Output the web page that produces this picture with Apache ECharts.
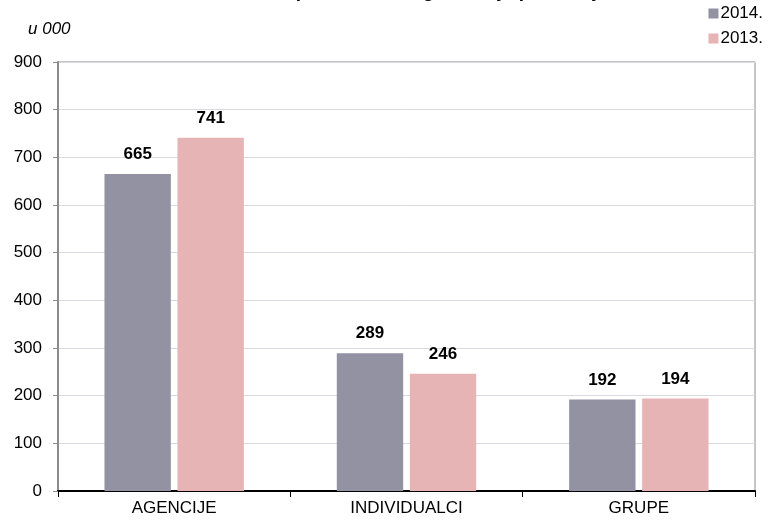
<!DOCTYPE html>
<html>
<head>
<meta charset="utf-8">
<style>
  html, body { margin: 0; padding: 0; background: #ffffff; }
  #chart { width: 768px; height: 523px; }
</style>
<script src="https://cdn.jsdelivr.net/npm/echarts@6/dist/echarts.min.js"></script>
</head>
<body>
<div id="chart"></div>
<script>
// Categories and yearly values (thousands)
const categories = ['AGENCIJE', 'INDIVIDUALCI', 'GRUPE'];
const values2014 = [665, 289, 192];
const values2013 = [741, 246, 194];
const yTicks = { min: 0, max: 900, interval: 100 };
const titleText = 'Dolasci turista prema vrsti organizacije putovanja';

const FONT = '"Liberation Sans", Arial, sans-serif';
const FS = 17;

const chart = echarts.init(document.getElementById('chart'), null, { renderer: 'canvas' });

const barLabel = {
  show: true,
  position: 'top',
  distance: 11,
  color: '#000',
  fontWeight: 'bold',
  fontSize: FS,
  fontFamily: FONT
};

chart.setOption({
  animation: false,
  backgroundColor: '#ffffff',
  title: {
    text: titleText,
    left: 'center',
    top: -23,
    textStyle: { fontSize: 19, fontWeight: 'bold', color: '#000', fontFamily: FONT }
  },
  graphic: [{
    type: 'text',
    left: 28,
    top: 21,
    style: { text: 'u 000', fill: '#000', font: 'italic ' + FS + 'px ' + FONT }
  }],
  legend: {
    orient: 'vertical',
    right: 0,
    top: 0,
    itemWidth: 10,
    itemHeight: 10,
    itemGap: 8,
    icon: 'rect',
    textStyle: { fontSize: FS, color: '#000', fontFamily: FONT, padding: [0, 0, 0, -3] },
    data: ['2014.', '2013.']
  },
  grid: {
    left: 58,
    right: 13,
    top: 62,
    bottom: 32,
    show: true,
    borderColor: '#8c8c8c',
    borderWidth: 1
  },
  xAxis: {
    type: 'category',
    data: categories,
    axisLine: { lineStyle: { color: '#000', width: 2 } },
    axisTick: { show: true, length: 6, lineStyle: { color: '#000', width: 1 } },
    axisLabel: { color: '#000', fontSize: FS, fontFamily: FONT, margin: 9 }
  },
  yAxis: {
    type: 'value',
    min: yTicks.min,
    max: yTicks.max,
    interval: yTicks.interval,
    axisLine: { show: true, lineStyle: { color: '#8c8c8c', width: 2 } },
    axisTick: { show: true, length: 5, lineStyle: { color: '#8c8c8c' } },
    axisLabel: { color: '#000', fontSize: FS, fontFamily: FONT, margin: 16 },
    splitLine: { lineStyle: { color: '#d9d9df', width: 1 } }
  },
  series: [
    {
      name: '2014.',
      type: 'bar',
      data: values2014,
      barGap: '10%',
      barCategoryGap: '40%',
      itemStyle: { color: '#9392a2' },
      label: barLabel
    },
    {
      name: '2013.',
      type: 'bar',
      data: values2013,
      itemStyle: { color: '#e6b4b4' },
      label: barLabel
    }
  ]
});
</script>
</body>
</html>
